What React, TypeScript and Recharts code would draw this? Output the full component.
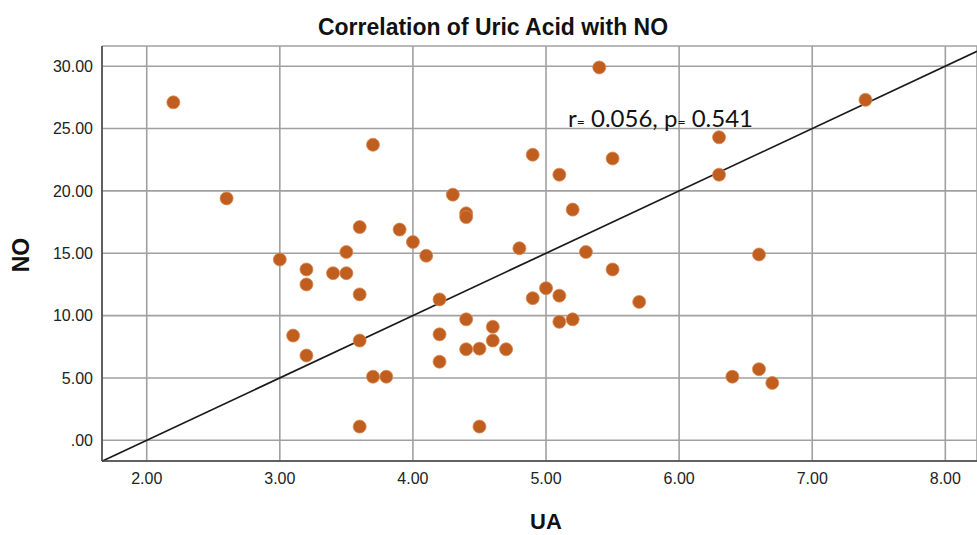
import React from 'react';
import {
  ScatterChart,
  Scatter,
  XAxis,
  YAxis,
  CartesianGrid,
  ReferenceLine,
} from 'recharts';

// UA values (x) and NO values (y)
const uaValues = [
  2.2, 2.6, 3.0, 3.1, 3.2, 3.2, 3.2, 3.4, 3.5, 3.5, 3.6, 3.6, 3.6, 3.6,
  3.7, 3.7, 3.8, 3.9, 4.0, 4.1, 4.2, 4.2, 4.2, 4.3, 4.4, 4.4, 4.4, 4.4,
  4.5, 4.5, 4.6, 4.6, 4.7, 4.8, 4.9, 4.9, 5.0, 5.1, 5.1, 5.1, 5.2, 5.2,
  5.3, 5.4, 5.5, 5.5, 5.7, 6.3, 6.3, 6.4, 6.6, 6.6, 6.7, 7.4,
];
const noValues = [
  27.1, 19.4, 14.5, 8.4, 13.7, 12.5, 6.8, 13.4, 15.1, 13.4, 17.1, 11.7, 8.0, 1.1,
  23.7, 5.1, 5.1, 16.9, 15.9, 14.8, 11.3, 8.5, 6.3, 19.7, 18.2, 17.9, 9.7, 7.3,
  7.35, 1.1, 9.1, 8.0, 7.3, 15.4, 22.9, 11.4, 12.2, 21.3, 11.6, 9.5, 18.5, 9.7,
  15.1, 29.9, 22.6, 13.7, 11.1, 24.3, 21.3, 5.1, 14.9, 5.7, 4.6, 27.3,
];

const xTicks = [2, 3, 4, 5, 6, 7, 8];
const yTicks = [0, 5, 10, 15, 20, 25, 30];

// end points of the fitted line as drawn on the chart
const fitLine = [
  { ua: 1.664, no: -1.68 },
  { ua: 8.238, no: 31.19 },
];

const points = uaValues.map((ua, i) => ({ ua, no: noValues[i] }));

const fmtY = (v: number) => (v === 0 ? '.00' : v.toFixed(2));

const Dot = (props: any) => (
  <circle cx={props.cx} cy={props.cy} r={6.5} fill="#bf5e1e" stroke="#d98a55" strokeWidth={0.8} />
);

const tickStyle = { fill: '#222', fontSize: 16, fontFamily: 'Liberation Sans, Arial, sans-serif' };

export default function App() {
  return (
    <div style={{ position: 'fixed', left: 0, top: 0, width: 977, height: 535, background: '#fff' }}>
      <ScatterChart width={977} height={535} margin={{ top: 46, right: 0, bottom: 44, left: 22 }}>
        <CartesianGrid stroke="#a0a0a0" strokeWidth={1.6} />
        <XAxis
          type="number"
          dataKey="ua"
          height={30}
          domain={[1.664, 8.238]}
          ticks={xTicks}
          tickFormatter={(v: number) => v.toFixed(2)}
          allowDataOverflow
          tickLine={false}
          tickSize={0}
          tickMargin={12}
          axisLine={{ stroke: '#444', strokeWidth: 1.5 }}
          tick={tickStyle}
        />
        <YAxis
          type="number"
          dataKey="no"
          width={80}
          domain={[-1.66, 31.62]}
          ticks={yTicks}
          tickFormatter={fmtY}
          allowDataOverflow
          tickLine={false}
          tickSize={0}
          tickMargin={9}
          axisLine={{ stroke: '#444', strokeWidth: 1.5 }}
          tick={tickStyle}
        />
        <Scatter data={points} shape={Dot} isAnimationActive={false} />
        <ReferenceLine
          segment={[
            { x: fitLine[0].ua, y: fitLine[0].no },
            { x: fitLine[1].ua, y: fitLine[1].no },
          ]}
          stroke="#1a1a1a"
          strokeWidth={1.7}
          ifOverflow="visible"
        />
      </ScatterChart>
      <svg
        width={977}
        height={535}
        style={{ position: 'absolute', left: 0, top: 0, pointerEvents: 'none' }}
      >
        <text
          x={493}
          y={35}
          textAnchor="middle"
          textLength={350}
          lengthAdjust="spacingAndGlyphs"
          fontFamily="Liberation Sans, Arial, sans-serif"
          fontWeight="bold"
          fontSize={23}
          fill="#111"
        >
          Correlation of Uric Acid with NO
        </text>
        <text
          x={29}
          y={255}
          transform="rotate(-90 29 255)"
          textAnchor="middle"
          fontFamily="Liberation Sans, Arial, sans-serif"
          fontWeight="bold"
          fontSize={23}
          fill="#111"
        >
          NO
        </text>
        <text
          x={546}
          y={529}
          textAnchor="middle"
          fontFamily="Liberation Sans, Arial, sans-serif"
          fontWeight="bold"
          fontSize={22}
          fill="#111"
        >
          UA
        </text>
        <text
          x={568}
          y={127}
          textLength={185}
          lengthAdjust="spacingAndGlyphs"
          fontFamily="Lato, sans-serif"
          fontSize={24}
          fill="#111"
        >
          r<tspan fontSize={14}>=</tspan> 0.056, p<tspan fontSize={14}>=</tspan> 0.541
        </text>
      </svg>
    </div>
  );
}
